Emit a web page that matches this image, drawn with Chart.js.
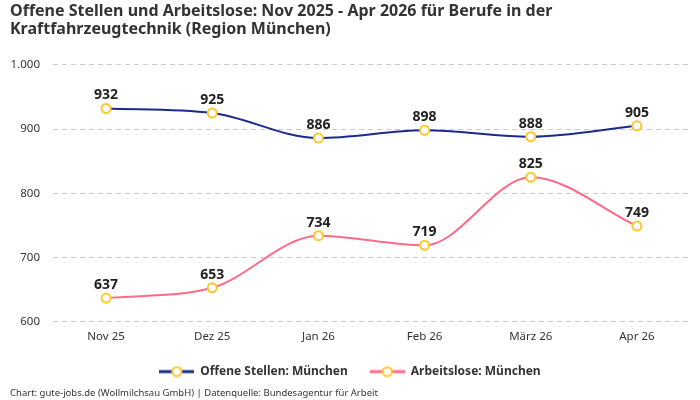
<!DOCTYPE html>
<html><head><meta charset="utf-8">
<script src="https://cdn.jsdelivr.net/npm/chart.js@4"></script>
<style>html,body{margin:0;padding:0;background:#fff}#wrap{width:700px;height:400px}</style>
</head><body><div id="wrap"><canvas id="c"></canvas></div>
<script>
const categories = ["Nov 25", "Dez 25", "Jan 26", "Feb 26", "März 26", "Apr 26"];
const offeneStellen = [932, 925, 886, 898, 888, 905];
const arbeitslose = [637, 653, 734, 719, 825, 749];
const seriesNames = ["Offene Stellen: München", "Arbeitslose: München"];
const titleLines = ["Offene Stellen und Arbeitslose: Nov 2025 - Apr 2026 für Berufe in der", "Kraftfahrzeugtechnik (Region München)"];
const footerText = "Chart: gute-jobs.de (Wollmilchsau GmbH) | Datenquelle: Bundesagentur für Arbeit";

const FONT = "'Noto Sans', sans-serif";
const BLUE = "#1b2a8c", PINK = "#ff6b86", GOLD = "#ffc72c";

function legendIcon(color){
  const c = document.createElement('canvas');
  c.width = 35; c.height = 12;
  const g = c.getContext('2d');
  g.strokeStyle = color; g.lineWidth = 3;
  g.beginPath(); g.moveTo(0,6); g.lineTo(35,6); g.stroke();
  g.fillStyle = '#fff'; g.strokeStyle = GOLD; g.lineWidth = 2;
  g.beginPath(); g.arc(17.5,6,4.5,0,Math.PI*2); g.fill(); g.stroke();
  return c;
}
const icons = [legendIcon(BLUE), legendIcon(PINK)];

const labelPlugin = {
  id: 'valueLabels',
  afterDatasetsDraw(chart){
    const ctx = chart.ctx;
    ctx.save();
    ctx.font = "bold 14px " + FONT;
    ctx.fillStyle = "#222";
    ctx.textAlign = "center";
    ctx.textBaseline = "bottom";
    chart.data.datasets.forEach((ds, i) => {
      chart.getDatasetMeta(i).data.forEach((pt, j) => {
        ctx.fillText(String(ds.data[j]), pt.x, pt.y - 6);
      });
    });
    ctx.restore();
  }
};

new Chart(document.getElementById('c'), {
  type: 'line',
  data: {
    labels: categories,
    datasets: [
      { label: seriesNames[0], data: offeneStellen, borderColor: BLUE, borderWidth: 2,
        pointBackgroundColor: '#fff', pointBorderColor: GOLD, pointBorderWidth: 2, pointRadius: 4.5,
        cubicInterpolationMode: 'monotone' },
      { label: seriesNames[1], data: arbeitslose, borderColor: PINK, borderWidth: 2,
        pointBackgroundColor: '#fff', pointBorderColor: GOLD, pointBorderWidth: 2, pointRadius: 4.5,
        cubicInterpolationMode: 'monotone' }
    ]
  },
  options: {
    responsive: true, maintainAspectRatio: false, animation: false,
    locale: 'de-DE',
    layout: { padding: { left: 10, right: 10, top: 0, bottom: 0 } },
    scales: {
      x: { offset: true, grid: { display: false }, border: { display: false },
           ticks: { color: '#333', font: { family: FONT, size: 11.5 }, padding: 0 } },
      y: { min: 600, max: 1000,
           grid: { color: '#cccccc', drawTicks: false, lineWidth: 1 },
           border: { display: false, dash: [5, 4] },
           afterFit(axis){ axis.width = 43; },
           ticks: { stepSize: 100, color: '#333', font: { family: FONT, size: 11.5 }, padding: 13 } }
    },
    plugins: {
      title: { display: true, text: titleLines, align: 'start', color: '#333',
               font: { family: FONT, size: 16, weight: 'bold', lineHeight: 1.15 }, padding: { top: 2, bottom: 26 } },
      subtitle: { display: true, text: footerText, position: 'bottom', align: 'start', color: '#333',
                  font: { family: FONT, size: 9.5 }, padding: { top: 0, bottom: 1 } },
      legend: { position: 'bottom', labels: { usePointStyle: true, pointStyleWidth: 35, color: '#333', padding: 22,
                font: { family: FONT, size: 12, weight: 'bold' },
                generateLabels(chart){
                  const items = Chart.defaults.plugins.legend.labels.generateLabels(chart);
                  items.forEach((it, i) => { it.pointStyle = icons[i]; });
                  return items;
                } } },
      tooltip: { enabled: false }
    }
  },
  plugins: [labelPlugin]
});
</script></body></html>
